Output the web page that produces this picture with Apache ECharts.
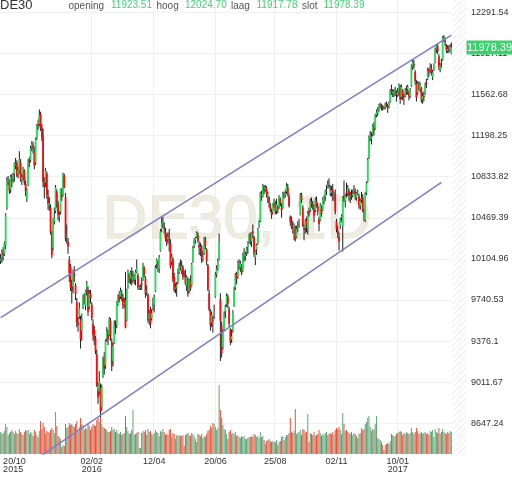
<!DOCTYPE html>
<html><head><meta charset="utf-8">
<script src="https://cdn.jsdelivr.net/npm/echarts@6/dist/echarts.min.js"></script>
<style>html,body{margin:0;padding:0;background:#fff}#c{width:512px;height:477px}</style>
</head><body><div id="c"></div>
<script>
const symbol = 'DE30';
const watermark = 'DE30, 1D';
const headerNames = ['opening', 'hoog', 'laag', 'slot'];
const startDate = '2015-10-16';
const holidays = ['2015-12-24', '2015-12-25', '2015-12-31', '2016-01-01'];
const tickDates = ['2015-10-20', '2016-02-02', '2016-04-12', '2016-06-20', '2016-08-25', '2016-11-02', '2017-01-10'];
const tickLabels = ['20/10\n2015', '02/02\n2016', '12/04', '20/06', '25/08', '02/11', '10/01\n2017'];
const yTickLabels = ['12291.54', '11927.11', '11562.68', '11198.25', '10833.82', '10469.39', '10104.96', '9740.53', '9376.1', '9011.67', '8647.24'];

const open = [
10090,10110,10170,10150,10230,10560,10790,10790,10720,10840,
10810,10860,10940,10960,10860,10880,10960,10800,10850,10890,
10770,10640,10760,10970,10980,11100,11110,11060,10960,11180,
11300,11300,11390,11270,11200,10780,10780,10860,10660,10580,
10560,10310,10200,10440,10530,10700,10600,10480,10520,10700,
10670,10840,10650,10300,10260,10100,10040,9860,9860,9970,
9870,9720,9540,9600,9560,9470,9680,9770,9690,9850,
9830,9680,9800,9700,9530,9480,9400,9260,8950,8930,
8960,8790,9060,9220,9160,9400,9450,9430,9560,9370,
9200,9360,9500,9520,9700,9780,9770,9800,9760,9700,
9740,9560,9860,9960,9930,9970,9920,9940,9920,9990,
9960,9850,9850,9890,9920,10030,9930,9810,9790,9570,
9660,9580,9670,9700,9820,10060,10060,10020,10180,10370,
10420,10390,10350,10310,10280,10330,10250,10080,10100,9940,
9840,9850,9900,9990,10050,10000,10030,9960,9960,9870,
9920,9820,9910,9870,10090,10220,10270,10300,10320,10230,
10200,10210,10110,10150,10280,10190,10050,9800,9640,9540,
9560,9620,9770,9970,10020,10100,9750,9520,9320,9480,
9640,9700,9770,9660,9480,9390,9470,9690,9850,9970,
9950,10060,10030,10030,10000,10150,10130,10160,10210,10260,
10310,10260,10350,10300,10120,10190,10240,10410,10440,10680,
10660,10740,10720,10730,10660,10650,10580,10520,10520,10600,
10600,10530,10560,10570,10640,10560,10560,10680,10670,10700,
10740,10660,10480,10440,10390,10370,10390,10300,10380,10420,
10500,10670,10560,10380,10380,10450,10370,10520,10540,10610,
10580,10560,10540,10620,10570,10460,10450,10560,10540,10620,
10660,10710,10740,10760,10720,10690,10720,10660,10680,10440,
10360,10300,10400,10470,10400,10660,10620,10700,10690,10710,
10660,10670,10670,10700,10710,10650,10700,10660,10580,10630,
10650,10520,10450,10690,10790,11000,11190,11170,11210,11280,
11260,11380,11400,11430,11460,11460,11450,11450,11450,11480,
11460,11460,11500,11600,11580,11580,11590,11580,11560,11590,
11630,11540,11600,11550,11560,11590,11610,11580,11550,11640,
11810,11830,11760,11660,11580,11640,11610,11620,11520,11550,
11570,11670,11700,11780,11780,11800,11720,11780,11850,11970,
11990,11900,11790,11840,11870,12060,12040,11990,11950,11970,
11960,11923.51];

const high = [
10150,10190,10210,10260,10510,10830,10840,10810,10850,10860,
10870,10960,11000,10980,10920,11060,10990,10860,10920,10900,
10800,10730,10990,11010,11110,11150,11140,11100,11180,11300,
11340,11430,11410,11300,11260,10830,10910,10880,10720,10650,
10590,10350,10470,10560,10760,10720,10620,10530,10730,10730,
10870,10860,10690,10410,10290,10130,10060,9920,10010,10040,
9890,9760,9590,9720,9600,9620,9790,9800,9830,9910,
9860,9830,9830,9720,9570,9510,9420,9300,9010,9110,
9000,8990,9240,9280,9390,9500,9480,9590,9580,9400,
9360,9560,9560,9730,9790,9820,9850,9830,9790,9760,
9990,9840,10010,9980,10000,10030,10000,9970,10010,10100,
9980,9870,9880,9940,10070,10040,9950,9870,9800,9650,
9680,9660,9760,9790,10050,10110,10090,10140,10370,10470,
10480,10430,10380,10330,10340,10370,10280,10150,10120,9980,
9890,9900,10020,10070,10100,10090,10050,10000,10010,9960,
9940,9930,9960,10070,10220,10290,10300,10350,10340,10260,
10250,10230,10170,10300,10300,10200,10060,9830,9660,9640,
9600,9700,9990,10050,10110,10330,9800,9550,9480,9640,
9700,9800,9790,9680,9490,9480,9650,9860,9980,9990,
10090,10100,10090,10060,10160,10200,10170,10210,10260,10330,
10340,10340,10410,10310,10180,10240,10380,10450,10700,10710,
10770,10760,10760,10750,10700,10660,10600,10550,10600,10640,
10620,10640,10580,10670,10650,10600,10700,10700,10720,10780,
10770,10680,10490,10480,10440,10420,10400,10400,10440,10460,
10690,10690,10580,10410,10460,10480,10530,10560,10640,10650,
10620,10590,10650,10660,10600,10480,10600,10580,10650,10670,
10720,10760,10800,10820,10760,10750,10770,10700,10720,10460,
10400,10340,10470,10500,10660,10800,10680,10780,10760,10730,
10700,10720,10720,10760,10730,10700,10720,10680,10640,10700,
10680,10550,10700,10790,11000,11200,11240,11230,11300,11320,
11390,11430,11450,11480,11490,11480,11470,11460,11490,11500,
11480,11500,11610,11650,11610,11610,11630,11600,11620,11660,
11650,11650,11610,11570,11620,11640,11650,11600,11620,11830,
11870,11870,11780,11690,11680,11680,11670,11630,11580,11590,
11670,11700,11800,11800,11840,11830,11780,11840,11980,12010,
12010,11920,11840,11880,12080,12090,12070,12010,12000,12000,
12010,12024.70];

const low = [
10060,10070,10090,10130,10190,10540,10760,10680,10690,10740,
10780,10790,10900,10830,10820,10860,10790,10760,10800,10760,
10660,10610,10750,10920,10960,11060,11040,10900,10940,11160,
11250,11280,11240,11150,10740,10640,10740,10640,10540,10530,
10320,10110,10180,10410,10510,10560,10450,10430,10500,10620,
10660,10730,10260,10240,10150,9900,9820,9710,9800,9900,
9740,9500,9460,9570,9310,9380,9660,9700,9650,9780,
9600,9660,9710,9560,9380,9340,9260,8970,8820,8900,
8700,8760,9050,9080,9130,9370,9340,9420,9380,9110,
9150,9350,9440,9490,9690,9720,9750,9730,9660,9670,
9490,9550,9840,9890,9880,9870,9900,9880,9870,9980,
9830,9830,9830,9830,9910,9940,9760,9780,9540,9520,
9490,9560,9650,9630,9810,10020,9990,9980,10170,10340,
10380,10330,10260,10220,10240,10170,10020,10050,9900,9810,
9800,9770,9880,9970,10000,9970,9920,9940,9870,9820,
9770,9800,9820,9860,10070,10200,10240,10290,10250,10140,
10130,10070,10080,10140,10190,10050,9820,9640,9470,9500,
9450,9570,9760,9940,10000,10090,9200,9230,9300,9460,
9580,9680,9670,9500,9340,9360,9450,9680,9830,9880,
9930,10010,9990,9960,9990,10080,10090,10130,10150,10240,
10230,10210,10290,10120,10050,10140,10230,10380,10430,10620,
10650,10680,10700,10650,10600,10560,10520,10460,10500,10560,
10500,10500,10510,10550,10570,10470,10550,10640,10650,10680,
10660,10560,10400,10370,10330,10270,10260,10290,10340,10380,
10490,10600,10390,10270,10330,10340,10320,10480,10520,10560,
10540,10430,10520,10560,10490,10350,10440,10480,10530,10590,
10620,10670,10730,10730,10660,10660,10620,10620,10500,10340,
10290,10180,10370,10430,10170,10610,10560,10650,10660,10620,
10600,10630,10650,10680,10630,10620,10670,10550,10540,10600,
10520,10440,10430,10670,10780,10990,11150,11120,11190,11200,
11250,11360,11370,11410,11440,11420,11420,11430,11430,11450,
11400,11440,11490,11560,11540,11540,11550,11500,11540,11550,
11480,11520,11510,11470,11540,11560,11560,11510,11530,11630,
11780,11790,11650,11500,11560,11600,11580,11490,11480,11500,
11560,11620,11690,11720,11750,11730,11690,11770,11840,11930,
11920,11780,11760,11800,11860,12030,11990,11930,11930,11930,
11940,11917.78];

const close = [
10104,10165,10147,10238,10492,10795,10802,10710,10832,10801,
10850,10950,10951,10845,10887,10988,10815,10832,10907,10783,
10708,10713,10971,10959,11085,11119,11092,10933,11169,11284,
11293,11382,11261,11190,10789,10752,10886,10673,10592,10598,
10340,10139,10450,10469,10738,10608,10497,10489,10727,10653,
10860,10743,10283,10310,10214,9979,9849,9825,9985,9960,
9794,9545,9521,9664,9391,9574,9764,9736,9822,9880,
9639,9798,9757,9581,9434,9393,9286,8979,8879,9017,
8752,8967,9207,9135,9377,9463,9388,9573,9416,9167,
9331,9513,9495,9717,9776,9751,9824,9778,9692,9723,
9498,9831,9991,9933,9983,9892,9950,9948,9990,10022,
9851,9851,9860,9887,10046,9966,9794,9822,9564,9624,
9530,9622,9683,9761,10027,10094,10051,10120,10350,10421,
10435,10373,10294,10260,10299,10321,10039,10123,9926,9828,
9851,9870,9980,10045,10036,10041,9952,9952,9890,9943,
9795,9916,9842,10057,10205,10272,10287,10333,10263,10204,
10209,10103,10121,10288,10217,10088,9834,9657,9519,9607,
9550,9631,9962,10015,10071,10257,9557,9268,9447,9612,
9680,9776,9709,9532,9373,9418,9629,9833,9964,9930,
10068,10066,10063,9981,10142,10156,10147,10198,10247,10319,
10275,10337,10330,10144,10170,10228,10367,10432,10692,10651,
10753,10713,10739,10676,10679,10603,10544,10494,10592,10623,
10529,10588,10545,10657,10593,10534,10684,10672,10688,10752,
10675,10573,10432,10386,10379,10405,10276,10373,10394,10436,
10674,10626,10394,10361,10438,10405,10511,10500,10619,10585,
10568,10490,10624,10577,10523,10414,10580,10504,10631,10646,
10701,10711,10761,10757,10710,10717,10696,10665,10526,10370,
10325,10259,10456,10482,10646,10631,10667,10693,10735,10664,
10663,10665,10685,10713,10662,10689,10700,10582,10620,10640,
10534,10513,10684,10775,10986,11179,11203,11190,11284,11244,
11366,11404,11427,11464,11468,11456,11449,11445,11473,11474,
11451,11481,11598,11584,11585,11584,11599,11563,11583,11646,
11521,11629,11555,11540,11599,11597,11630,11545,11595,11806,
11848,11814,11681,11535,11659,11627,11651,11510,11549,11543,
11642,11666,11774,11771,11793,11757,11757,11828,11967,11998,
11948,11804,11823,11834,12067,12060,12027,11958,11967,11967,
11979,11978.39];

const volume = [
22,20,21,23,30,27,19,21,22,24,
22,20,23,21,20,25,22,20,19,22,
24,23,24,20,22,21,18,24,22,19,
17,23,33,25,31,27,20,23,22,21,
24,26,24,21,42,28,18,17,15,7,
9,8,30,26,27,31,29,30,28,27,
30,33,22,27,36,30,29,24,26,25,
30,28,24,27,30,29,28,34,36,32,
38,30,27,26,25,24,22,22,23,27,
24,25,22,24,21,20,22,19,20,21,
38,27,23,20,21,24,44,19,20,21,
22,6,6,21,23,22,24,19,25,22,
23,20,19,21,24,22,21,18,23,22,
25,22,19,20,19,24,25,17,21,20,
15,19,18,19,18,18,19,8,19,20,
21,19,18,21,20,18,15,12,20,19,
18,20,16,18,17,20,23,24,28,26,
31,30,27,24,26,69,44,36,29,25,
24,20,15,22,24,20,21,20,22,18,
19,17,16,18,17,18,15,15,16,17,
17,18,17,20,19,17,18,16,22,17,
18,14,10,13,14,15,13,12,13,12,
12,14,9,12,13,17,18,14,17,19,
19,21,36,22,21,23,45,20,21,22,
24,19,25,24,21,22,40,12,21,20,
19,22,18,19,20,24,21,18,20,19,
21,22,19,20,21,20,22,19,24,26,
25,27,24,20,41,30,23,24,22,21,
20,22,19,21,20,18,16,20,21,26,
24,25,30,32,36,38,27,23,25,24,
30,38,16,15,14,12,9,4,9,10,
11,10,13,20,19,18,18,20,21,22,
23,22,19,21,20,22,21,20,21,26,
22,20,22,26,23,20,21,22,20,21,
22,20,21,19,23,22,24,17,25,22,
21,26,20,22,25,22,21,20,22,21,
23,22];

// channel lines: [candle index, price]
const upperChannel = [[0, 9584], [361, 12090]];
const lowerChannel = [[0, 8113], [353, 10783]];

function tradingDays(start, n, skip) {
  const out = [];
  const d = new Date(start + 'T00:00:00Z');
  while (out.length < n) {
    const s = d.toISOString().slice(0, 10);
    const wd = d.getUTCDay();
    if (wd !== 0 && wd !== 6 && skip.indexOf(s) < 0) out.push(s);
    d.setUTCDate(d.getUTCDate() + 1);
  }
  return out;
}

const N = Math.min(open.length, high.length, low.length, close.length, volume.length);
const dates = tradingDays(startDate, N, holidays);
const tickIdx = tickDates.map(t => dates.indexOf(t));
const yTicks = yTickLabels.map(Number);
const candleData = [];
for (let i = 0; i < N; i++) candleData.push([i, open[i], high[i], low[i], close[i]]);

const UP = '#2bdc5c', DOWN = '#ff0a0a', WICK = '#1e1e1e';
const VUP = '#5ea679', VDOWN = '#e3533a';
const FONT = '"Liberation Sans", Arial, sans-serif';
const volData = [];
for (let i = 0; i < N; i++) volData.push({ value: [i, volume[i]], itemStyle: { color: close[i] >= open[i] ? VUP : VDOWN } });

function renderCandle(params, api) {
  const i = api.value(0);
  const o = api.value(1), h = api.value(2), l = api.value(3), c = api.value(4);
  const pO = api.coord([i, o]), pC = api.coord([i, c]);
  const pH = api.coord([i, h]), pL = api.coord([i, l]);
  const bw = 1.8;
  const x = pO[0];
  const top = Math.min(pO[1], pC[1]);
  const hg = Math.max(1, Math.abs(pO[1] - pC[1]));
  return {
    type: 'group',
    children: [
      { type: 'line', shape: { x1: x, y1: pH[1], x2: x, y2: pL[1] }, style: { stroke: WICK, lineWidth: 1 } },
      { type: 'rect', shape: { x: x - bw / 2, y: top, width: bw, height: hg }, style: { fill: c >= o ? UP : DOWN } }
    ]
  };
}

const chart = echarts.init(document.getElementById('c'), null, { renderer: 'canvas' });
chart.setOption({
  animation: false,
  backgroundColor: '#ffffff',
  grid: [
    { left: 0, right: 60, top: 0, bottom: 23 },
    { left: 0, right: 60, top: 379, bottom: 23 }
  ],
  xAxis: [
    {
      type: 'category', gridIndex: 0, data: dates, boundaryGap: true,
      axisLine: { show: false }, axisTick: { show: false },
      axisLabel: {
        interval: (i) => tickIdx.indexOf(i) >= 0,
        formatter: (v, i) => { const k = tickIdx.indexOf(i); return k >= 0 ? tickLabels[k] : ''; },
        fontSize: 9, lineHeight: 8, color: '#333', margin: 4, fontFamily: FONT,
        alignMinLabel: 'left'
      },
      splitLine: { show: true, interval: (i) => tickIdx.indexOf(i) > 0, lineStyle: { color: '#efefef', width: 1 } }
    },
    { type: 'category', gridIndex: 1, data: dates, show: false, boundaryGap: true }
  ],
  yAxis: [
    {
      type: 'value', gridIndex: 0, position: 'right', min: 8375, max: 12400.6, scale: true,
      axisLine: { show: false },
      axisTick: { show: false, customValues: yTicks },
      axisLabel: {
        customValues: yTicks,
        formatter: (v) => {
          let best = 0, bd = Infinity;
          yTicks.forEach((t, k) => { const d = Math.abs(t - v); if (d < bd) { bd = d; best = k; } });
          return yTickLabels[best];
        },
        fontSize: 9, color: '#333', margin: 19, fontFamily: FONT
      },
      splitLine: { show: true, lineStyle: { color: '#f1f1f1', width: 1 } }
    },
    { type: 'value', gridIndex: 1, min: 0, max: 75, show: false }
  ],
  series: [
    {
      type: 'bar', xAxisIndex: 1, yAxisIndex: 1, data: volData, barWidth: '80%', z: 1, silent: true
    },
    {
      type: 'custom', xAxisIndex: 0, yAxisIndex: 0, data: candleData,
      encode: { x: 0, y: [1, 2, 3, 4] }, renderItem: renderCandle, clip: true, z: 2, silent: true
    },
    {
      type: 'line', xAxisIndex: 0, yAxisIndex: 0, data: upperChannel, showSymbol: false, symbol: 'none',
      lineStyle: { color: '#7d7dcf', width: 1.5 }, z: 3, silent: true, clip: true
    },
    {
      type: 'line', xAxisIndex: 0, yAxisIndex: 0, data: lowerChannel, showSymbol: false, symbol: 'none',
      lineStyle: { color: '#7d7dcf', width: 1.5 }, z: 3, silent: true, clip: true
    }
  ]
});

// hatch pattern for right margin strip
const pc = document.createElement('canvas');
pc.width = 6; pc.height = 6;
const g = pc.getContext('2d');
g.fillStyle = '#ffffff'; g.fillRect(0, 0, 6, 6);
g.strokeStyle = '#e9e9e9'; g.lineWidth = 1;
g.beginPath(); g.moveTo(-1, 7); g.lineTo(7, -1); g.stroke();
g.beginPath(); g.moveTo(-1, 1); g.lineTo(1, -1); g.stroke();
g.beginPath(); g.moveTo(5, 7); g.lineTo(7, 5); g.stroke();

const last = N - 1;
const lastY = chart.convertToPixel({ yAxisIndex: 0 }, close[last]);
const fmt = (v) => v.toFixed(2);
const vals = [open[last], high[last], low[last], close[last]];
const hdrX = [[68.5, 111], [156.5, 185], [231, 256.5], [302, 323.5]];
const headerEls = [];
headerNames.forEach((n, k) => {
  headerEls.push({ type: 'text', x: hdrX[k][0], y: 6, z: 20, style: { text: n, fill: '#555', font: '10px ' + FONT, verticalAlign: 'middle' } });
  headerEls.push({ type: 'text', x: hdrX[k][1], y: 5.5, z: 20, style: { text: fmt(vals[k]), fill: '#3fd373', font: '10px ' + FONT, verticalAlign: 'middle' } });
});

chart.setOption({
  graphic: [
    { type: 'text', x: 237, y: 221, z: 0, silent: true,
      style: { text: watermark, fill: '#efebe1', stroke: '#e4dfd0', lineWidth: 1, font: '62px ' + FONT, align: 'center', verticalAlign: 'middle' } },
    { type: 'rect', shape: { x: 452, y: 0, width: 14, height: 454 }, z: 5, silent: true,
      style: { fill: { image: pc, repeat: 'repeat' } } },
    { type: 'text', x: 0, y: 5, z: 20, style: { text: symbol, fill: '#333', font: '13px ' + FONT, verticalAlign: 'middle' } },
    ...headerEls,
    { type: 'rect', shape: { x: 466.5, y: lastY - 7, width: 46, height: 14 }, z: 30, style: { fill: '#3ed06f' } },
    { type: 'text', x: 467, y: lastY + 0.5, z: 31, style: { text: fmt(close[last]), fill: '#ffffff', font: '11px ' + FONT, verticalAlign: 'middle' } }
  ]
});
</script>
</body></html>
